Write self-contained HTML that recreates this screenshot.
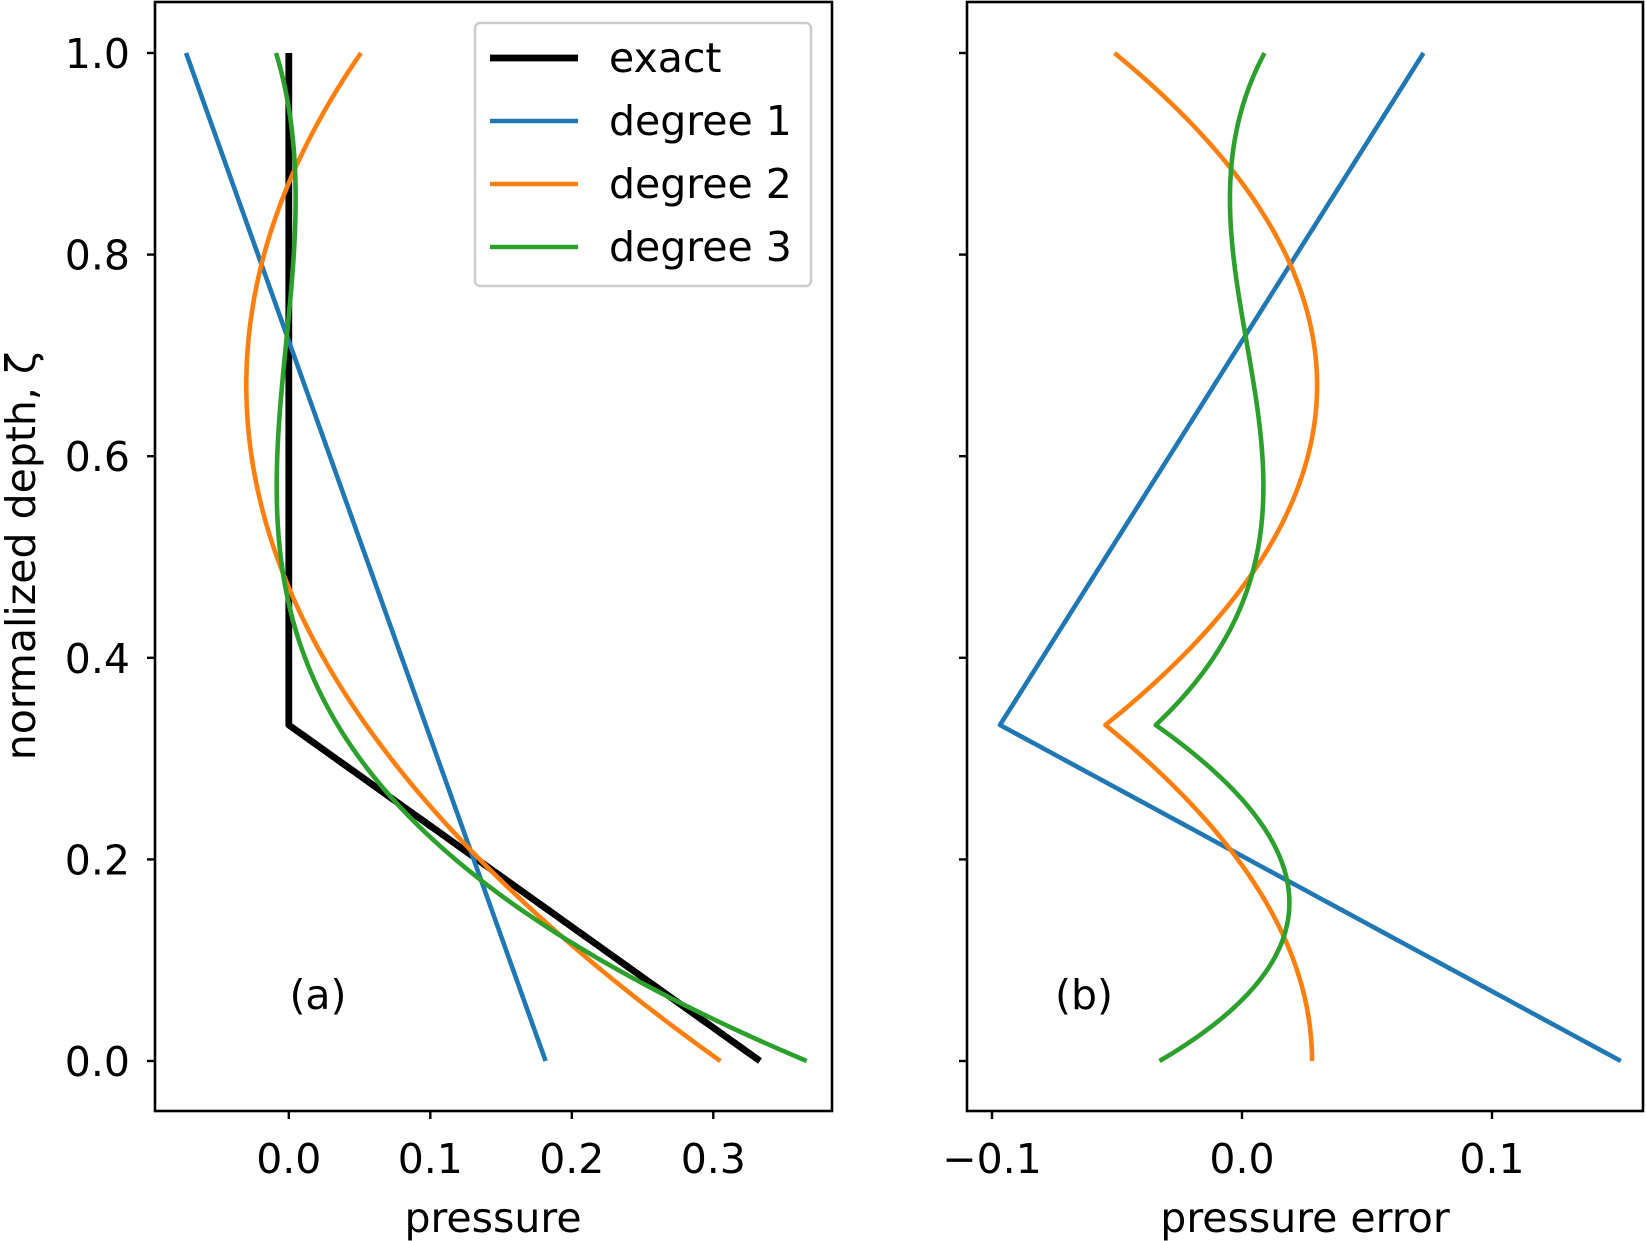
<!DOCTYPE html>
<html><head><meta charset="utf-8"><style>
html,body{margin:0;padding:0;background:#fff}
svg{display:block;font-family:"DejaVu Sans","Liberation Sans",sans-serif}
</style></head><body>
<svg id="chart" width="1646" height="1241" viewBox="0 0 1646 1241"></svg>
<script>
// read-off values (polynomial fits pass through these points)
const exactDepth = [0, 1/3, 1.0];
const exactPressure = [0.333, 0, 0];
const deg1Depth = [0, 1.0];
const deg1Pressure = [0.1815, -0.0726];
const deg2Depth = [0, 0.5, 1.0];
const deg2Pressure = [0.305, -0.0084, 0.051];
const deg3Depth = [0, 1/3, 2/3, 1.0];
const deg3Pressure = [0.366, 0.0345, -0.005, -0.009];
const yTicks = [0.0, 0.2, 0.4, 0.6, 0.8, 1.0];
const xTicksA = [0.0, 0.1, 0.2, 0.3];
const xTicksB = [-0.1, 0.0, 0.1];

const NS = "http://www.w3.org/2000/svg";
const svg = document.getElementById('chart');
function el(tag, attrs, parent) {
  const e = document.createElementNS(NS, tag);
  for (const k in attrs) e.setAttribute(k, attrs[k]);
  (parent || svg).appendChild(e);
  return e;
}
const yS = z => 1061 - z * 1008;
const xA = p => 288.8 + p * 1415;
const xB = p => 1242 + p * 2500;
const C = {k:'#000000', b:'#1f77b4', o:'#ff7f0e', g:'#2ca02c'};

function lin(xs, ys, z) {
  for (let i = 0; i < xs.length - 1; i++) {
    if (z <= xs[i+1] + 1e-12) { const t = (z - xs[i]) / (xs[i+1] - xs[i]); return ys[i] + t * (ys[i+1] - ys[i]); }
  }
  return ys[ys.length-1];
}
function lagrange(xs, ys, z) {
  let s = 0;
  for (let i = 0; i < xs.length; i++) {
    let l = 1;
    for (let j = 0; j < xs.length; j++) if (j !== i) l *= (z - xs[j]) / (xs[i] - xs[j]);
    s += ys[i] * l;
  }
  return s;
}
const dense = [];
for (let i = 0; i <= 300; i++) dense.push(i / 300);
dense.push(1/3); dense.sort((a,b)=>a-b);
const exactF = z => lin(exactDepth, exactPressure, z);
const f1 = z => lin(deg1Depth, deg1Pressure, z);
const f2 = z => lagrange(deg2Depth, deg2Pressure, z);
const f3 = z => lagrange(deg3Depth, deg3Pressure, z);

function poly(fn, xs, color, w, name, parent) {
  const pts = dense.map(z => xs(fn(z)).toFixed(2) + ',' + yS(z).toFixed(2)).join(' ');
  const p = el('polyline', {points: pts, fill: 'none', stroke: color, 'stroke-width': w, 'stroke-linejoin': 'round'}, parent);
  
  
}
function frame(x0, x1, name) {
  const r = el('rect', {x: x0, y: 2, width: x1 - x0, height: 1109, fill: 'none', stroke: '#000', 'stroke-width': 2.6});
  
  
}
function text(x, y, s, anchor, name, size) {
  const t = el('text', {x: x, y: y, 'text-anchor': anchor, 'font-size': size || 41, fill: '#000'});
  t.textContent = s;
  
  
  return t;
}
const fmt = v => (v < 0 ? '\u2212' : '') + Math.abs(v).toFixed(1);

const LW = 4.6;
const gA = el('g', {});


poly(exactF, xA, C.k, 6.8, 'line-exact', gA);
poly(f1, xA, C.b, LW, 'line-degree-1', gA);
poly(f2, xA, C.o, LW, 'line-degree-2', gA);
poly(f3, xA, C.g, LW, 'line-degree-3', gA);
const gB = el('g', {});


poly(z => exactF(z) - f1(z), xB, C.b, LW, 'error-degree-1', gB);
poly(z => exactF(z) - f2(z), xB, C.o, LW, 'error-degree-2', gB);
poly(z => exactF(z) - f3(z), xB, C.g, LW, 'error-degree-3', gB);

frame(155, 832, 'axes-a-frame');
frame(967, 1643, 'axes-b-frame');

yTicks.forEach(v => {
  el('line', {x1: 147, x2: 155, y1: yS(v), y2: yS(v), stroke: '#000', 'stroke-width': 2.4});
  el('line', {x1: 959, x2: 967, y1: yS(v), y2: yS(v), stroke: '#000', 'stroke-width': 2.4});
  text(130, yS(v) + 15, v.toFixed(1), 'end', 'y-tick-label');
});
xTicksA.forEach(v => {
  el('line', {x1: xA(v), x2: xA(v), y1: 1111, y2: 1119, stroke: '#000', 'stroke-width': 2.4});
  text(xA(v), 1173, fmt(v), 'middle', 'x-tick-label-a');
});
xTicksB.forEach(v => {
  el('line', {x1: xB(v), x2: xB(v), y1: 1111, y2: 1119, stroke: '#000', 'stroke-width': 2.4});
  text(xB(v), 1173, fmt(v), 'middle', 'x-tick-label-b');
});
text(493, 1232, 'pressure', 'middle', 'x-axis-title-a');
text(1305, 1232, 'pressure error', 'middle', 'x-axis-title-b');
const yl = text(0, 0, 'normalized depth, \u03B6', 'middle', 'y-axis-title');
yl.setAttribute('transform', 'translate(35,556) rotate(-90)');
text(318, 1009, '(a)', 'middle', 'panel-label-a');
text(1084, 1009, '(b)', 'middle', 'panel-label-b');

const lg = el('g', {});


el('rect', {x: 475, y: 23, width: 336, height: 263, rx: 5, fill: '#fff', 'fill-opacity': 0.8, stroke: '#ccc', 'stroke-width': 2.4}, lg);
const legendLabels = ['exact', 'degree 1', 'degree 2', 'degree 3'];
const legendColors = [C.k, C.b, C.o, C.g];
legendLabels.forEach((s, i) => {
  const y = 58 + i * 63;
  el('line', {x1: 490, x2: 578, y1: y, y2: y, stroke: legendColors[i], 'stroke-width': i === 0 ? 6.8 : LW}, lg);
  const t = text(609, y + 14, s, 'start', 'legend-entry');
  lg.appendChild(t);
});
</script>
</body></html>
